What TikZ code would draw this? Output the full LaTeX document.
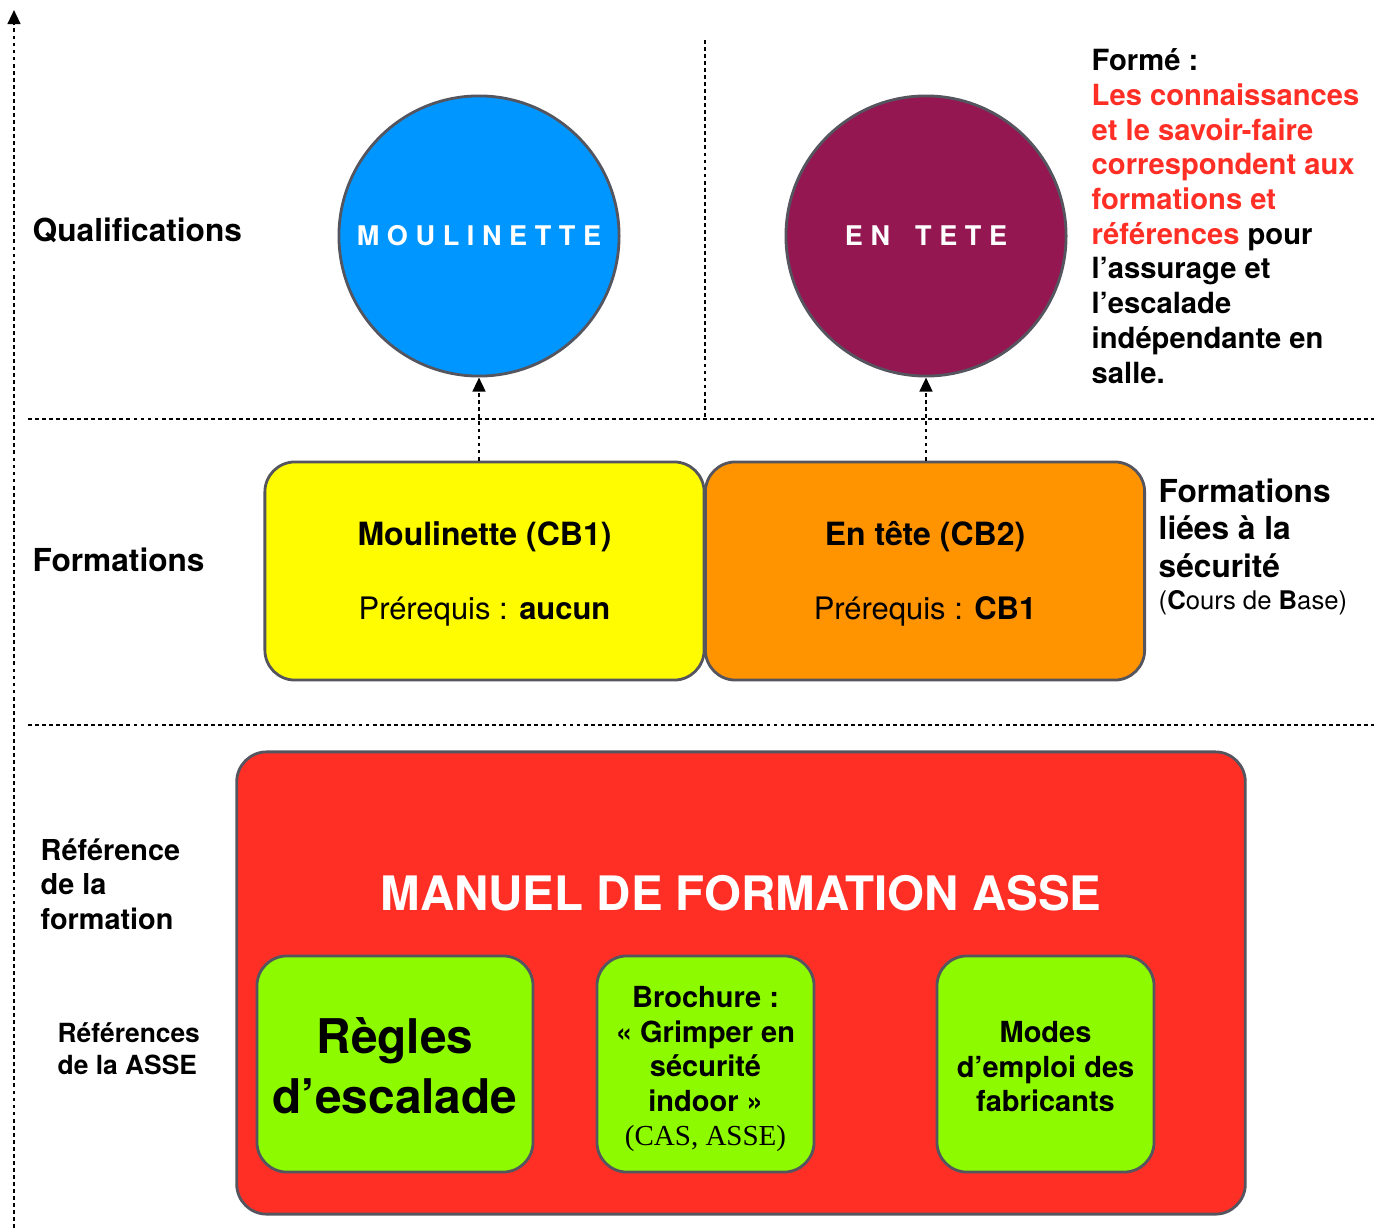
\documentclass[tikz,border=0pt]{standalone}
\usepackage{fontspec}
\setmainfont{TeX Gyre Heros}
\newfontfamily\timesfont{Liberation Serif}
\usetikzlibrary{arrows.meta}

\definecolor{bluefill}{RGB}{0,150,255}
\definecolor{maroon}{RGB}{148,23,81}
\definecolor{yellowfill}{RGB}{255,251,0}
\definecolor{orangefill}{RGB}{255,147,0}
\definecolor{redfill}{RGB}{255,47,38}
\definecolor{greenfill}{RGB}{142,250,0}
\definecolor{edgegray}{RGB}{85,85,95}

\begin{document}
\begin{tikzpicture}[x=0.01cm, y=-0.01cm, every node/.style={inner sep=0pt},
    dotline/.style={line width=0.7pt, dash pattern=on 1.1pt off 0.9pt},
    up/.style={dotline, -{Triangle[length=4pt, width=3.6pt]}},
    qual/.style={circle, draw=edgegray, line width=0.8pt, minimum size=2.8cm, text=white,
      font=\fontsize{7.7}{9}\selectfont\bfseries\addfontfeature{LetterSpace=28}},
    cours/.style={rectangle, rounded corners=0.3cm, draw=edgegray, line width=0.8pt,
      minimum width=4.39cm, minimum height=2.18cm, align=center, font=\fontsize{8.8}{10.5}\selectfont},
    ref/.style={rectangle, rounded corners=0.3cm, draw=edgegray, line width=0.8pt, fill=greenfill,
      minimum height=2.16cm, align=center, font=\fontsize{8.25}{9.8}\selectfont\bfseries},
    side/.style={anchor=north west, align=left}]
  \useasboundingbox (0,0) rectangle (1374,1228);

  % axe et separations
  \coordinate (axe-bas) at (14,1228);
  \coordinate (axe-haut) at (14,10);
  \draw[up] (axe-bas) -- (axe-haut);
  \draw[dotline] (28,419) -- (1374,419);
  \draw[dotline] (28,725) -- (1374,725);
  \draw[dotline] (705,40) -- (705,419);

  % qualifications
  \node[qual, fill=bluefill] (moul) at (479,236) {MOULINETTE};
  \node[qual, fill=maroon] (tete) at (926,236) {EN\hspace{0.1cm} TETE};

  % formations
  \node[cours, fill=yellowfill] (cb1) at (484.5,571)
    {\rule{0pt}{8.6pt}{\fontsize{9.1}{10}\selectfont\bfseries Moulinette (CB1)}\\[10.5pt] Prérequis : \textbf{aucun}};
  \node[cours, fill=orangefill] (cb2) at (925,571)
    {\rule{0pt}{8.6pt}{\fontsize{9.1}{10}\selectfont\bfseries En tête (CB2)}\\[10.5pt] Prérequis : \textbf{CB1}};

  \draw[up] (cb1.north -| moul.south) -- (moul.south);
  \draw[up] (cb2.north -| tete.south) -- (tete.south);

  % references
  \node[rectangle, rounded corners=0.3cm, draw=edgegray, line width=0.8pt, fill=redfill,
    minimum width=10.08cm, minimum height=4.62cm] (asse) at (741,983) {};
  \node[text=white, font=\fontsize{13.5}{16}\selectfont\bfseries] (titre) at (741,893)
    {MANUEL DE FORMATION ASSE};
  \node[ref, minimum width=2.76cm, font=\fontsize{13.6}{17}\selectfont\bfseries] (regles) at (395,1064)
    {\rule{0pt}{11pt}Règles\\d’escalade};
  \node[ref, minimum width=2.17cm] (brochure) at (705.5,1064)
    {\rule{0pt}{9pt}Brochure :\\« Grimper en\\sécurité\\indoor »\\{\timesfont\mdseries (CAS, ASSE)}};
  \node[ref, minimum width=2.17cm] (modes) at (1045.5,1064)
    {\rule{0pt}{7.6pt}Modes\\d’emploi des\\fabricants};

  % textes de gauche
  \node[anchor=west, font=\fontsize{9}{11}\selectfont\bfseries] (lqual) at (32,230) {Qualifications};
  \node[anchor=west, font=\fontsize{9}{11}\selectfont\bfseries] (lform) at (32,560) {Formations};
  \node[side, font=\fontsize{8.2}{9.8}\selectfont\bfseries] (lref) at (40,838)
    {Référence\\de la\\formation};
  \node[side, font=\fontsize{7.5}{9.1}\selectfont\bfseries] (lasse) at (57,1022)
    {Références\\de la ASSE};

  % textes de droite
  \node[side, font=\fontsize{8.3}{9.87}\selectfont\bfseries] (forme) at (1091,48)
    {Formé :\\
     \textcolor{redfill}{Les connaissances}\\
     \textcolor{redfill}{et le savoir-faire}\\
     \textcolor{redfill}{correspondent aux}\\
     \textcolor{redfill}{formations et}\\
     \textcolor{redfill}{références} pour\\
     l’assurage et\\
     l’escalade\\
     indépendante en\\
     salle.};
  \node[side, font=\fontsize{9}{10.7}\selectfont\bfseries] (liees) at (1158,478)
    {Formations\\liées à la\\sécurité\\[-1.6pt]{\fontsize{7.3}{9}\selectfont\mdseries (\textbf{C}ours de \textbf{B}ase)}};
\end{tikzpicture}
\end{document}
